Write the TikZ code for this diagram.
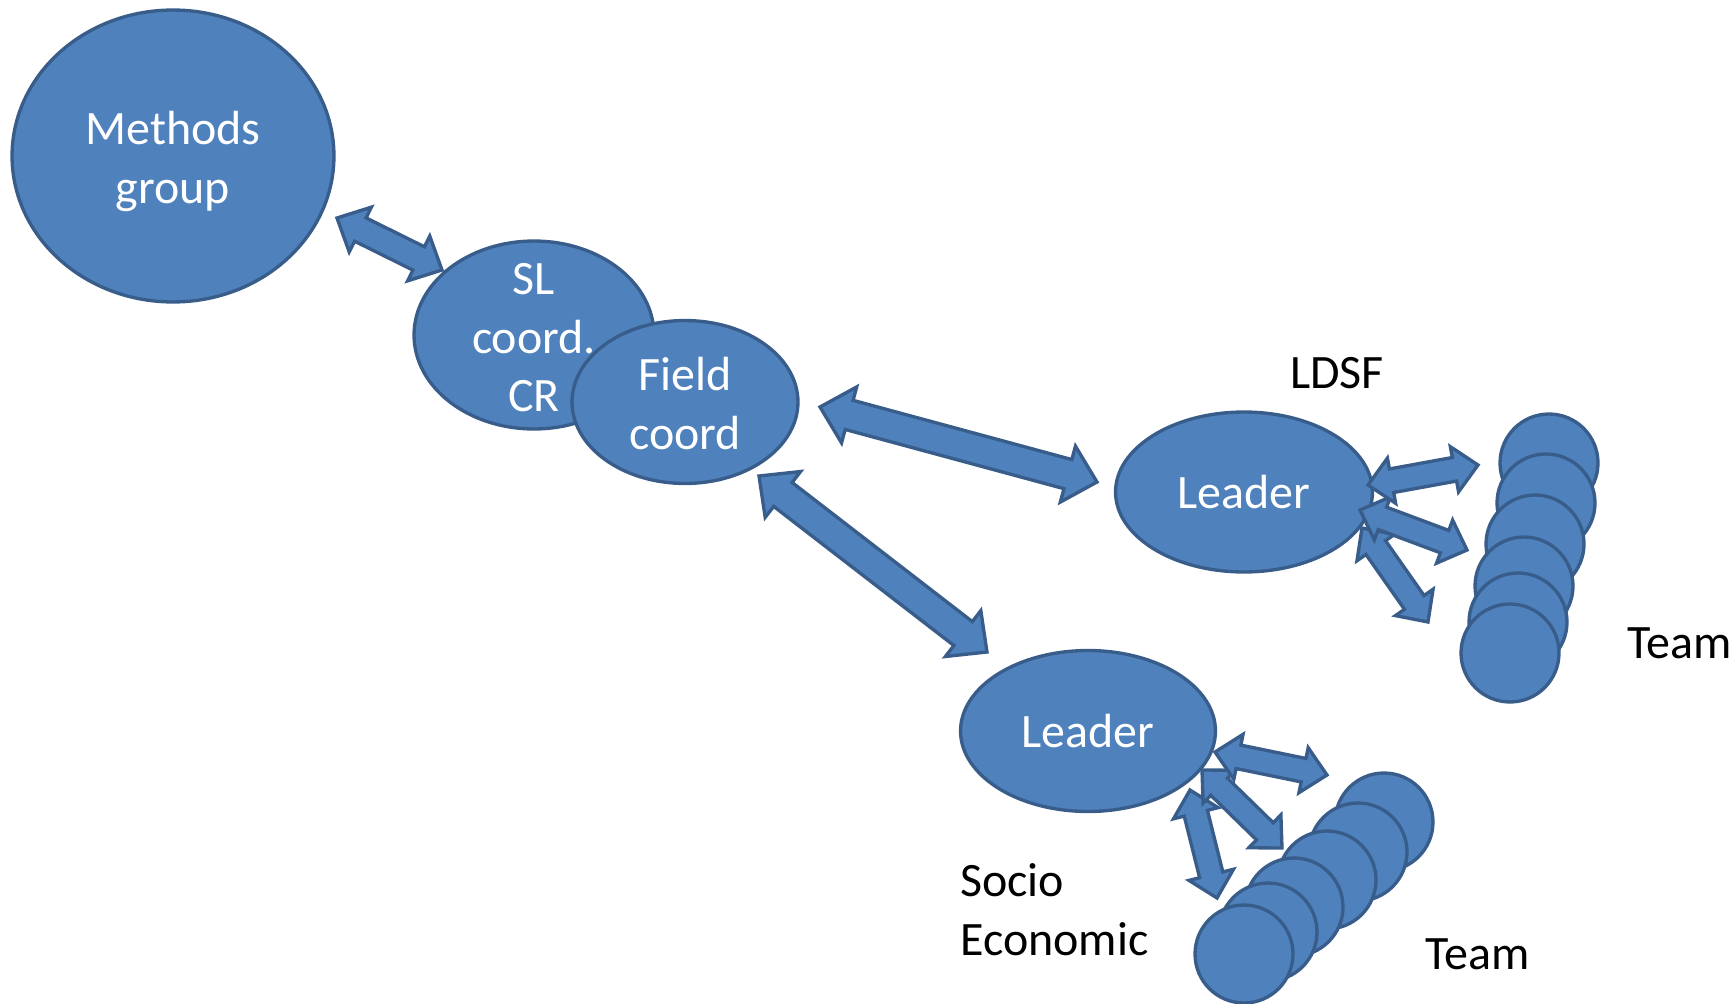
\documentclass[tikz,border=0pt]{standalone}
\usepackage{fontspec}
\setmainfont{Carlito}
\usetikzlibrary{calc,shapes.geometric}
\definecolor{fillblue}{HTML}{4F81BD}
\definecolor{edgeblue}{HTML}{385D8A}

% stacked label that does not enlarge its ellipse
\newcommand{\stack}[1]{\smash{\raisebox{-.36em}{\begin{tabular}{@{}c@{}}#1\end{tabular}}}}
% block double arrow between two coordinates, #1 = head width (px)
\newcommand{\dblarrow}[3][46]{%
  \pgfmathsetlengthmacro{\hw}{#1*0.01cm}%
  \pgfmathsetlengthmacro{\sw}{#1*0.0052cm}%
  \pgfmathsetlengthmacro{\hl}{#1*0.0104cm}%
  \coordinate (ha) at ($(#2)!\hl!(#3)$);
  \coordinate (hb) at ($(#3)!\hl!(#2)$);
  \draw[blockarrow] (#2) -- ($(ha)!\hw!90:(#3)$) -- ($(ha)!\sw!90:(#3)$)
    -- ($(hb)!\sw!-90:(#2)$) -- ($(hb)!\hw!-90:(#2)$) -- (#3)
    -- ($(hb)!\hw!90:(#2)$) -- ($(hb)!\sw!90:(#2)$)
    -- ($(ha)!\sw!-90:(#3)$) -- ($(ha)!\hw!-90:(#3)$) -- cycle;}

\begin{document}
\begin{tikzpicture}[x=.02cm,y=-.02cm,every node/.style={font=\fontsize{27.3}{33.5}\selectfont},blob/.style={ellipse,draw=edgeblue,fill=fillblue,line width=1.9pt,inner sep=0pt,text=white},member/.style={draw=edgeblue,fill=fillblue,line width=1.9pt},blockarrow/.style={draw=edgeblue,fill=fillblue,line width=1.9pt},tag/.style={text=black,inner sep=0pt}]
\path[use as bounding box] (0,0) rectangle (1735,1004);

\node[blob,minimum width=6.44cm,minimum height=5.84cm] (methods) at (173,156) {\stack{Methods\\group}};
\node[blob,minimum width=4.8cm,minimum height=3.76cm] (sl) at (534,335) {\stack{SL\\coord.\\CR}};
\node[blob,minimum width=4.52cm,minimum height=3.26cm] (field) at (685,402) {\stack{Field\\coord}};
\node[blob,minimum width=5.14cm,minimum height=3.2cm] (ldsf) at (1244,492) {Leader};
\node[blob,minimum width=5.1cm,minimum height=3.22cm] (socio) at (1088,731) {Leader};

\node[tag] (ldsf-tag) at (1337,373) {LDSF};
\node[tag,anchor=west] (ldsf-team) at (1627,643) {Team};
\node[tag,anchor=west,align=left] (socio-tag) at (960,910) {Socio\\Economic};
\node[tag,anchor=west] (socio-team) at (1425,954) {Team};

% arrow ends
\coordinate (methods-end) at (337,218);
\coordinate (sl-end) at (442,270);
\coordinate (field-east) at (820,407);
\coordinate (ldsf-west) at (1097,482);
\coordinate (field-south) at (759,476);
\coordinate (socio-north) at (987,652);
\coordinate (la1) at (1368,485); \coordinate (la2) at (1478,465);
\coordinate (lb1) at (1360,510); \coordinate (lb2) at (1467,550);
\coordinate (lc1) at (1362,528); \coordinate (lc2) at (1428,622);
\coordinate (sa1) at (1215,752); \coordinate (sa2) at (1327,775);
\coordinate (sb1) at (1202,770); \coordinate (sb2) at (1282,848);
\coordinate (sc1) at (1190,790); \coordinate (sc2) at (1217,898);

\dblarrow[50]{methods-end}{sl-end}
\dblarrow[58]{field-east}{ldsf-west}
\dblarrow[58]{field-south}{socio-north}
\dblarrow{lc1}{lc2}
\dblarrow{lb1}{lb2}
\dblarrow{la1}{la2}
\dblarrow{sc1}{sc2}
\dblarrow{sb1}{sb2}
\dblarrow{sa1}{sa2}

% team members
\foreach \cx/\cy in {1549/463,1546/503,1535/544,1524/586,1518/622,1510/653}
  \draw[member] (\cx,\cy) circle[radius=.98cm];
\foreach \cx/\cy in {1384/822,1358/852,1327/880,1294/907,1268/932,1244/954}
  \draw[member] (\cx,\cy) circle[radius=.98cm];

\end{tikzpicture}
\end{document}
